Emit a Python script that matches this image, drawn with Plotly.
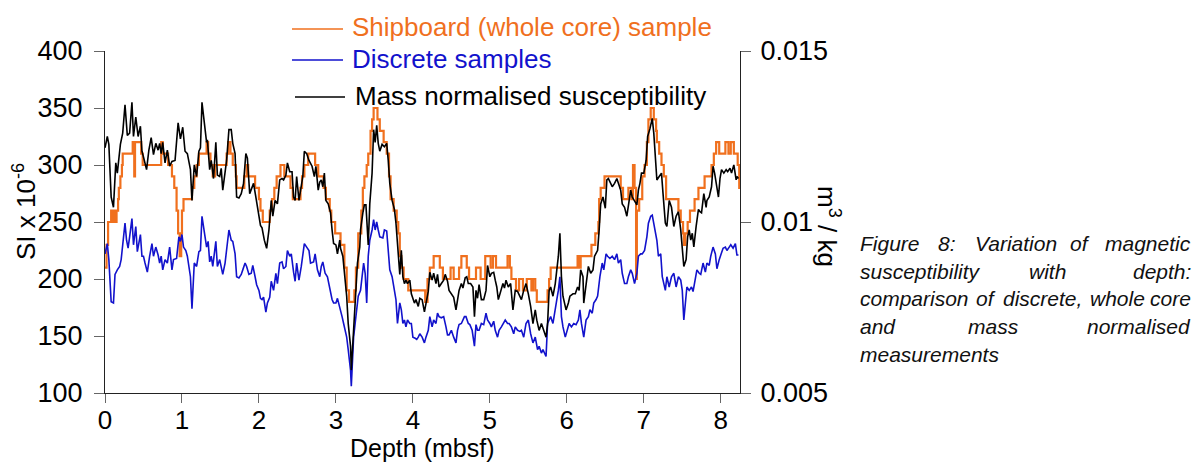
import plotly.graph_objects as go

# Shipboard (whole core) susceptibility, SI x 10^-6 (stepped record)
ship_depth = [0.00, 0.02, 0.04, 0.08, 0.10, 0.11, 0.13, 0.15, 0.17, 0.18, 0.20, 0.22, 0.23,
              0.36, 0.38, 0.39, 0.47, 0.49, 0.73, 0.75, 0.82, 0.87, 0.90, 0.93, 0.95, 0.97,
              0.99, 1.00, 1.02, 1.13, 1.16, 1.19, 1.22, 1.32, 1.34, 1.37, 1.40, 1.43, 1.58,
              1.60, 1.63, 1.66, 1.70, 1.71, 1.81, 1.84, 1.86, 1.95, 2.00, 2.02, 2.05, 2.14,
              2.17, 2.20, 2.23, 2.28, 2.33, 2.41, 2.44, 2.54, 2.56, 2.59, 2.64, 2.73, 2.77,
              2.84, 2.87, 2.92, 2.94, 2.99, 3.06, 3.11, 3.14, 3.17, 3.24, 3.26, 3.29, 3.33,
              3.35, 3.37, 3.40, 3.42, 3.45, 3.47, 3.49, 3.54, 3.57, 3.62, 3.66, 3.69, 3.71,
              3.75, 3.79, 3.81, 3.83, 3.85, 3.88, 3.94, 4.16, 4.19, 4.22, 4.27, 4.35, 4.39,
              4.49, 4.53, 4.60, 4.63, 4.70, 4.73, 4.82, 4.88, 4.94, 5.01, 5.04, 5.08, 5.23,
              5.26, 5.28, 5.34, 5.38, 5.43, 5.48, 5.54, 5.56, 5.59, 5.61, 5.75, 5.77, 5.79,
              6.14, 6.16, 6.18, 6.32, 6.37, 6.41, 6.42, 6.44, 6.49, 6.70, 6.73, 6.80, 6.84,
              6.86, 6.88, 6.90, 6.91, 6.94, 6.98, 7.01, 7.04, 7.06, 7.09, 7.13, 7.16, 7.17,
              7.20, 7.23, 7.26, 7.29, 7.45, 7.48, 7.51, 7.52, 7.54, 7.57, 7.60, 7.66, 7.71,
              7.79, 7.88, 7.91, 7.94, 7.98, 8.06, 8.10, 8.13, 8.17, 8.22, 8.24, 8.25]
ship_si = [210, 230, 250, 260, 250, 260, 250, 260, 270, 280, 290, 300, 310,
           320, 290, 320, 310, 300, 320, 310, 300, 290, 280, 260, 240, 220,
           240, 260, 270, 280, 290, 300, 310, 320, 310, 300, 290, 300, 310,
           320, 310, 300, 290, 280, 290, 300, 290, 280, 270, 260, 250, 260,
           270, 280, 290, 300, 290, 280, 270, 280, 290, 300, 310, 300, 290,
           280, 270, 260, 250, 240, 230, 210, 190, 180, 190, 210, 240, 260,
           280, 290, 300, 310, 330, 340, 350, 340, 330, 320, 310, 290, 270,
           260, 250, 240, 220, 210, 200, 190, 180, 200, 210, 220, 210, 200,
           210, 200, 210, 220, 210, 200, 210, 200, 220, 210, 220, 210, 220,
           210, 200, 190, 200, 190, 200, 190, 200, 190, 180, 190, 200, 210,
           220, 210, 220, 230, 240, 250, 270, 280, 290, 280, 270, 280, 270,
           300, 280, 200, 260, 270, 290, 300, 320, 340, 350, 340, 330, 320,
           310, 300, 290, 270, 260, 250, 240, 230, 240, 250, 260, 270, 280,
           290, 300, 310, 320, 310, 320, 310, 320, 310, 300, 280, 280]

# Discrete samples, SI x 10^-6
disc_depth = [0.00, 0.03, 0.05, 0.07, 0.08, 0.11, 0.13, 0.16, 0.19, 0.21, 0.23, 0.26, 0.28,
              0.30, 0.32, 0.35, 0.37, 0.40, 0.42, 0.44, 0.46, 0.48, 0.50, 0.52, 0.55, 0.58,
              0.61, 0.63, 0.66, 0.69, 0.71, 0.73, 0.75, 0.78, 0.81, 0.84, 0.87, 0.89, 0.93,
              0.96, 0.98, 1.00, 1.02, 1.05, 1.07, 1.11, 1.13, 1.16, 1.19, 1.22, 1.24, 1.26,
              1.29, 1.32, 1.34, 1.36, 1.38, 1.40, 1.44, 1.46, 1.49, 1.51, 1.53, 1.56, 1.58,
              1.61, 1.64, 1.66, 1.69, 1.71, 1.74, 1.77, 1.79, 1.82, 1.84, 1.87, 1.90, 1.92,
              1.95, 1.97, 2.00, 2.02, 2.04, 2.06, 2.09, 2.11, 2.14, 2.16, 2.19, 2.22, 2.24,
              2.27, 2.30, 2.32, 2.35, 2.37, 2.40, 2.42, 2.45, 2.47, 2.49, 2.52, 2.55, 2.57,
              2.59, 2.62, 2.65, 2.67, 2.71, 2.73, 2.76, 2.79, 2.81, 2.83, 2.86, 2.89, 2.92,
              2.95, 2.97, 3.00, 3.02, 3.05, 3.08, 3.10, 3.12, 3.14, 3.16, 3.19, 3.20, 3.21,
              3.23, 3.25, 3.27, 3.29, 3.32, 3.34, 3.36, 3.38, 3.40, 3.42, 3.44, 3.47, 3.49,
              3.51, 3.53, 3.55, 3.57, 3.61, 3.63, 3.66, 3.68, 3.70, 3.73, 3.76, 3.78, 3.80,
              3.83, 3.85, 3.87, 3.89, 3.91, 3.93, 3.96, 3.98, 4.00, 4.03, 4.05, 4.07, 4.09,
              4.12, 4.15, 4.17, 4.20, 4.22, 4.25, 4.27, 4.30, 4.32, 4.34, 4.37, 4.40, 4.43,
              4.45, 4.47, 4.50, 4.53, 4.56, 4.58, 4.60, 4.63, 4.65, 4.67, 4.69, 4.72, 4.74,
              4.77, 4.80, 4.82, 4.84, 4.86, 4.89, 4.92, 4.95, 4.97, 5.00, 5.02, 5.05, 5.07,
              5.10, 5.12, 5.15, 5.18, 5.20, 5.23, 5.25, 5.28, 5.31, 5.33, 5.36, 5.39, 5.41,
              5.44, 5.47, 5.50, 5.53, 5.56, 5.59, 5.62, 5.64, 5.67, 5.69, 5.73, 5.75, 5.77,
              5.79, 5.82, 5.85, 5.87, 5.89, 5.91, 5.93, 5.95, 5.98, 6.01, 6.03, 6.06, 6.09,
              6.12, 6.15, 6.17, 6.19, 6.22, 6.25, 6.28, 6.30, 6.33, 6.35, 6.38, 6.40, 6.43,
              6.46, 6.48, 6.51, 6.53, 6.56, 6.59, 6.62, 6.65, 6.67, 6.70, 6.72, 6.75, 6.78,
              6.80, 6.83, 6.85, 6.88, 6.91, 6.93, 6.96, 6.98, 7.01, 7.04, 7.06, 7.09, 7.11,
              7.14, 7.17, 7.19, 7.22, 7.24, 7.28, 7.30, 7.33, 7.36, 7.39, 7.42, 7.45, 7.48,
              7.50, 7.52, 7.54, 7.56, 7.59, 7.62, 7.64, 7.67, 7.69, 7.72, 7.74, 7.77, 7.80,
              7.82, 7.85, 7.87, 7.90, 7.93, 7.95, 7.98, 8.00, 8.03, 8.06, 8.08, 8.11, 8.13,
              8.16, 8.19, 8.21, 8.23]
disc_si = [222, 231, 217, 190, 180, 179, 204, 208, 211, 217, 228, 249, 234,
           227, 237, 253, 230, 246, 224, 231, 239, 220, 220, 214, 206, 220,
           231, 220, 228, 221, 214, 220, 208, 217, 214, 228, 208, 217, 218,
           237, 233, 239, 228, 225, 220, 202, 174, 214, 211, 224, 225, 255,
           243, 228, 233, 215, 220, 211, 233, 211, 217, 209, 204, 214, 227,
           243, 234, 233, 222, 202, 201, 204, 208, 214, 211, 204, 205, 212,
           202, 195, 190, 183, 182, 184, 171, 179, 184, 198, 190, 205, 196,
           214, 215, 209, 211, 225, 220, 222, 206, 198, 214, 199, 211, 222,
           231, 228, 225, 214, 215, 222, 208, 202, 211, 215, 205, 202, 193,
           182, 179, 179, 183, 176, 167, 161, 155, 149, 138, 120, 106, 123,
           149, 161, 176, 185, 190, 202, 214, 205, 179, 220, 234, 243, 252,
           243, 250, 243, 237, 236, 243, 242, 228, 208, 202, 190, 182, 161,
           179, 173, 161, 164, 158, 164, 161, 161, 149, 148, 147, 149, 152,
           149, 144, 149, 155, 167, 158, 164, 161, 170, 167, 166, 167, 158,
           151, 151, 155, 149, 144, 155, 160, 161, 164, 167, 167, 161, 160,
           155, 141, 160, 155, 155, 161, 160, 170, 164, 161, 158, 163, 155,
           149, 155, 158, 161, 164, 161, 161, 158, 152, 158, 155, 154, 155,
           149, 161, 164, 152, 144, 149, 138, 141, 135, 138, 132, 161, 164,
           167, 161, 176, 182, 190, 202, 167, 158, 149, 155, 161, 158, 161,
           160, 164, 173, 161, 149, 164, 167, 173, 170, 179, 182, 185, 202,
           214, 208, 222, 220, 218, 220, 217, 222, 214, 217, 205, 196, 196,
           202, 208, 205, 196, 205, 220, 222, 222, 225, 237, 249, 255, 256,
           243, 234, 220, 222, 202, 190, 202, 193, 202, 205, 193, 202, 199,
           190, 164, 179, 193, 190, 193, 189, 199, 208, 205, 204, 214, 206,
           214, 212, 220, 228, 222, 209, 217, 222, 227, 228, 225, 228, 230,
           227, 231, 221, 221]

# Mass normalised susceptibility, in units of 10^-3 m^3/kg
mass_depth = [0.00, 0.03, 0.05, 0.08, 0.11, 0.14, 0.16, 0.20, 0.23, 0.26, 0.29, 0.32, 0.35,
              0.37, 0.40, 0.43, 0.46, 0.48, 0.50, 0.54, 0.57, 0.60, 0.63, 0.66, 0.69, 0.71,
              0.73, 0.75, 0.78, 0.81, 0.84, 0.87, 0.91, 0.95, 0.98, 1.01, 1.04, 1.07, 1.11,
              1.13, 1.16, 1.19, 1.22, 1.24, 1.26, 1.29, 1.32, 1.33, 1.36, 1.38, 1.41, 1.44,
              1.46, 1.49, 1.51, 1.53, 1.56, 1.58, 1.61, 1.64, 1.66, 1.69, 1.71, 1.74, 1.77,
              1.80, 1.83, 1.85, 1.88, 1.90, 1.93, 1.96, 1.99, 2.02, 2.04, 2.07, 2.10, 2.13,
              2.16, 2.18, 2.21, 2.24, 2.27, 2.30, 2.32, 2.35, 2.37, 2.40, 2.43, 2.45, 2.47,
              2.49, 2.52, 2.55, 2.57, 2.59, 2.62, 2.65, 2.69, 2.72, 2.74, 2.77, 2.79, 2.81,
              2.83, 2.85, 2.87, 2.90, 2.93, 2.95, 2.97, 3.00, 3.02, 3.05, 3.06, 3.09, 3.12,
              3.14, 3.16, 3.19, 3.20, 3.21, 3.23, 3.26, 3.28, 3.31, 3.32, 3.35, 3.37, 3.39,
              3.42, 3.44, 3.47, 3.49, 3.51, 3.53, 3.55, 3.57, 3.60, 3.63, 3.66, 3.68, 3.70,
              3.73, 3.76, 3.78, 3.80, 3.83, 3.85, 3.87, 3.89, 3.91, 3.93, 3.96, 3.98, 4.00,
              4.02, 4.04, 4.07, 4.09, 4.12, 4.15, 4.17, 4.20, 4.22, 4.25, 4.27, 4.30, 4.32,
              4.34, 4.37, 4.40, 4.42, 4.45, 4.47, 4.50, 4.53, 4.56, 4.58, 4.60, 4.63, 4.65,
              4.68, 4.70, 4.72, 4.75, 4.78, 4.80, 4.82, 4.84, 4.86, 4.89, 4.92, 4.95, 4.97,
              5.00, 5.02, 5.05, 5.07, 5.09, 5.11, 5.14, 5.17, 5.19, 5.21, 5.24, 5.27, 5.30,
              5.33, 5.36, 5.39, 5.41, 5.44, 5.47, 5.50, 5.53, 5.56, 5.59, 5.61, 5.64, 5.67,
              5.70, 5.73, 5.75, 5.77, 5.79, 5.82, 5.85, 5.87, 5.89, 5.91, 5.93, 5.95, 5.99,
              6.02, 6.04, 6.08, 6.11, 6.14, 6.16, 6.18, 6.21, 6.22, 6.25, 6.28, 6.31, 6.34,
              6.36, 6.38, 6.40, 6.42, 6.44, 6.47, 6.50, 6.52, 6.54, 6.57, 6.59, 6.62, 6.65,
              6.67, 6.70, 6.72, 6.75, 6.78, 6.80, 6.83, 6.85, 6.88, 6.91, 6.93, 6.95, 6.97,
              7.00, 7.03, 7.05, 7.08, 7.11, 7.13, 7.15, 7.17, 7.20, 7.23, 7.25, 7.28, 7.30,
              7.33, 7.36, 7.39, 7.42, 7.45, 7.48, 7.50, 7.52, 7.55, 7.57, 7.59, 7.61, 7.63,
              7.65, 7.68, 7.71, 7.73, 7.75, 7.78, 7.81, 7.82, 7.85, 7.88, 7.90, 7.92, 7.94,
              7.97, 7.99, 8.01, 8.04, 8.07, 8.09, 8.12, 8.14, 8.17, 8.20, 8.21, 8.23]
mass_e3 = [12.17, 12.50, 12.27, 10.73, 10.43, 11.73, 11.43, 12.27, 12.60, 13.43, 12.53, 12.60, 13.50,
           12.50, 13.07, 12.50, 12.80, 12.07, 11.90, 11.53, 12.10, 12.47, 11.97, 12.30, 12.10, 12.30,
           12.00, 12.33, 11.73, 12.10, 11.63, 11.77, 11.80, 12.90, 12.43, 12.77, 12.07, 12.00, 11.53,
           10.63, 11.67, 11.33, 12.07, 12.17, 13.50, 12.90, 12.33, 12.40, 11.53, 11.80, 11.27, 12.33,
           11.37, 11.33, 11.57, 10.93, 11.53, 11.80, 12.70, 12.70, 12.30, 12.00, 10.73, 10.70, 10.83,
           11.13, 12.00, 11.87, 10.83, 10.93, 11.13, 10.73, 10.27, 9.90, 9.83, 9.47, 9.23, 9.77,
           10.63, 10.17, 10.63, 10.53, 11.23, 11.27, 11.23, 11.37, 11.73, 11.47, 11.47, 10.73, 10.63,
           11.33, 10.63, 11.03, 11.33, 12.07, 12.00, 11.80, 11.63, 11.33, 11.63, 10.93, 11.17, 11.23,
           11.03, 11.43, 10.63, 10.53, 10.27, 9.77, 9.37, 9.33, 9.07, 9.47, 9.23, 9.00, 8.40,
           7.83, 7.03, 6.37, 5.67, 6.07, 7.03, 8.00, 8.80, 9.27, 9.77, 10.27, 10.50, 10.50,
           9.33, 10.53, 11.43, 12.70, 12.33, 12.83, 12.30, 12.07, 12.27, 12.20, 12.30, 11.80, 11.13,
           10.63, 10.37, 9.97, 9.47, 8.47, 9.17, 8.40, 8.20, 8.30, 8.20, 8.30, 7.90, 7.73,
           7.63, 7.73, 7.53, 7.77, 7.73, 7.37, 7.63, 7.97, 8.53, 8.30, 8.50, 8.20, 8.47,
           8.10, 8.20, 8.30, 8.47, 8.27, 8.00, 7.90, 7.80, 7.43, 7.80, 8.00, 8.20, 8.07,
           8.37, 8.40, 8.20, 8.20, 8.10, 7.23, 8.00, 7.77, 8.17, 7.73, 7.73, 8.00, 8.73,
           8.40, 8.50, 8.53, 8.30, 8.10, 7.73, 8.00, 8.20, 8.07, 8.30, 8.10, 8.20, 7.43,
           8.00, 7.97, 7.80, 7.73, 8.00, 8.20, 7.90, 7.53, 7.03, 7.43, 7.13, 6.83, 7.03,
           6.83, 6.63, 7.03, 8.00, 8.10, 7.83, 8.20, 8.60, 9.00, 9.67, 8.40, 7.83, 7.43,
           7.63, 7.83, 7.90, 7.90, 8.10, 8.00, 8.60, 8.40, 7.63, 8.20, 8.70, 8.50, 8.60,
           9.00, 9.10, 9.17, 9.77, 10.53, 10.73, 10.40, 11.23, 11.27, 11.13, 11.03, 11.13, 11.27,
           11.13, 10.93, 10.53, 10.43, 10.17, 10.43, 10.93, 10.73, 10.63, 10.50, 10.93, 11.13, 11.43,
           11.43, 11.80, 12.50, 12.73, 13.03, 12.60, 11.90, 11.23, 11.33, 11.43, 10.83, 9.97, 9.87,
           10.63, 10.43, 9.87, 10.17, 10.30, 9.77, 9.17, 8.70, 8.90, 9.57, 9.77, 9.47, 9.67,
           9.27, 9.87, 10.37, 10.30, 10.27, 10.83, 10.43, 10.63, 10.73, 11.03, 11.63, 11.43, 11.13,
           10.73, 11.27, 11.53, 11.43, 11.53, 11.47, 11.57, 11.43, 11.67, 11.23, 11.33, 11.27]
mass_m3kg = [v * 1e-3 for v in mass_e3]

x_ticks = [0, 1, 2, 3, 4, 5, 6, 7, 8]
si_ticks = [100, 150, 200, 250, 300, 350, 400]
mass_ticks = [0.005, 0.01, 0.015]
mass_tick_text = ["0.005", "0.01", "0.015"]

ORANGE = "#F0701E"
BLUE = "#1212CC"
BLACK = "#000000"
FONT = "Liberation Sans, Arial, sans-serif"

W, H = 1197, 463
ML, MR, MT, MB = 105, 457, 51, 70
PW, PH = W - ML - MR, H - MT - MB


def px(x, y):
    """Page pixel -> paper coordinates."""
    return (x - ML) / PW, (H - MB - y) / PH


fig = go.Figure()
fig.add_trace(go.Scatter(x=ship_depth, y=ship_si, mode="lines", line_shape="hv",
                         line=dict(color=ORANGE, width=2.2), name="Shipboard (whole core) sample"))
fig.add_trace(go.Scatter(x=disc_depth, y=disc_si, mode="lines",
                         line=dict(color=BLUE, width=1.6), name="Discrete samples"))
fig.add_trace(go.Scatter(x=mass_depth, y=mass_m3kg, mode="lines", yaxis="y2",
                         line=dict(color=BLACK, width=1.6), name="Mass normalised susceptibility"))

axis_common = dict(showgrid=False, zeroline=False, showline=True, linecolor="#222",
                   linewidth=1.2, ticks="outside", tickcolor="#666", tickwidth=1.2)

fig.update_layout(
    width=W, height=H,
    margin=dict(l=ML, r=MR, t=MT, b=MB, pad=0),
    paper_bgcolor="white", plot_bgcolor="white",
    showlegend=False,
    font=dict(family=FONT, color="black"),
    xaxis=dict(range=[0, 8.25], tickvals=x_ticks, tickfont=dict(size=26), ticklen=9,
               ticklabelstandoff=-5, **axis_common),
    yaxis=dict(range=[100, 400], tickvals=si_ticks, tickfont=dict(size=27), ticklen=10,
               ticklabelstandoff=6, **axis_common),
    yaxis2=dict(range=[0.005, 0.015], tickvals=mass_ticks, ticktext=mass_tick_text,
                overlaying="y", side="right", tickfont=dict(size=27), ticklen=10,
                ticklabelstandoff=4, **axis_common),
)

annotations = []

# axis titles
x0, y0 = px(422, 448)
annotations.append(dict(x=x0, y=y0, text="Depth (mbsf)", showarrow=False,
                        font=dict(size=25), xanchor="center", yanchor="middle", borderpad=0))
x0, y0 = px(25, 212)
annotations.append(dict(x=x0, y=y0, text="SI x 10<sup>-6</sup>", showarrow=False,
                        textangle=-90, font=dict(size=26), xanchor="center", yanchor="middle"))
x0, y0 = px(829, 226)
annotations.append(dict(x=x0, y=y0, text="m<sup>3</sup> / kg", showarrow=False,
                        textangle=90, font=dict(size=26), xanchor="center", yanchor="middle"))

# legend: swatch lines and coloured labels
legend_rows = [
    ("Shipboard (whole core) sample", ORANGE, 292, 343, 29, 350, 27),
    ("Discrete samples", BLUE, 292, 343, 60, 350, 59),
    ("Mass normalised susceptibility", BLACK, 295, 345, 97, 353, 96),
]
shapes = []
for label, color, lx0, lx1, ly, tx, ty in legend_rows:
    ax0, ay0 = px(lx0, ly)
    ax1, _ = px(lx1, ly)
    shapes.append(dict(type="line", xref="paper", yref="paper", x0=ax0, x1=ax1, y0=ay0, y1=ay0,
                       line=dict(color=color, width=1.5)))
    tx0, ty0 = px(tx, ty)
    annotations.append(dict(x=tx0, y=ty0, text=label, showarrow=False, xanchor="left",
                            yanchor="middle", font=dict(size=26, color=color)))

# justified caption, placed word by word
caption_rows = [
    [("Figure", 859, "left"), ("8:", 947, "center"), ("Variation", 1016, "center"),
     ("of", 1080, "center"), ("magnetic", 1192, "right")],
    [("susceptibility", 859, "left"), ("with", 1047, "center"), ("depth:", 1192, "right")],
    [("comparison", 859, "left"), ("of", 986, "center"), ("discrete,", 1042, "center"),
     ("whole", 1117, "center"), ("core", 1192, "right")],
    [("and", 859, "left"), ("mass", 993, "center"), ("normalised", 1192, "right")],
    [("measurements", 859, "left")],
]
caption_y = [243, 271, 298, 326, 354]
for words, cy in zip(caption_rows, caption_y):
    for word, wx, anchor in words:
        cx0, cy0 = px(wx, cy)
        annotations.append(dict(x=cx0, y=cy0, text="<i>" + word + "</i>", showarrow=False,
                                xanchor=anchor, yanchor="middle", borderpad=0,
                                font=dict(size=21, color="#111")))

fig.update_layout(annotations=annotations, shapes=shapes)
for a in fig.layout.annotations:
    a.xref = "paper"
    a.yref = "paper"

fig.write_html("out.html")
